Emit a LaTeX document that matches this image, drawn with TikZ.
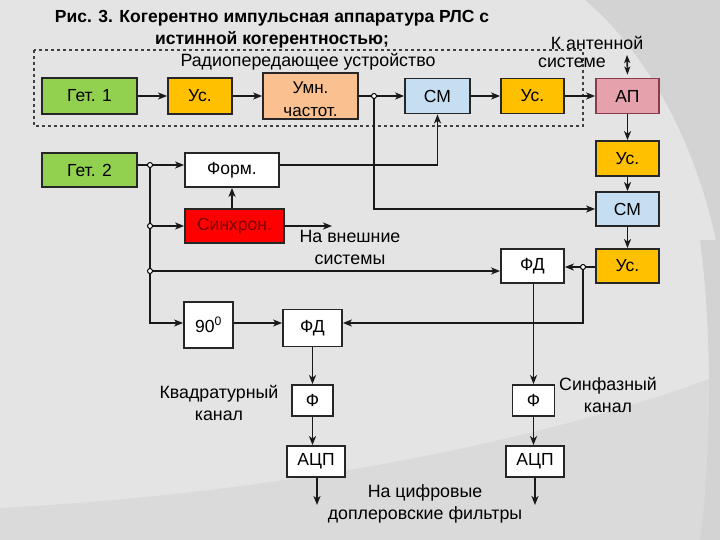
\documentclass[tikz,border=0pt]{standalone}
\usepackage{fontspec}
\setmainfont{Liberation Sans}
\usetikzlibrary{arrows.meta}
\definecolor{bgc}{HTML}{E4E4E4}
\definecolor{bgdark}{HTML}{D3D3D3}
\definecolor{bgmid}{HTML}{DADADA}
\definecolor{cgreen}{HTML}{92D050}
\definecolor{corange}{HTML}{FFC000}
\definecolor{cpeach}{HTML}{FAC090}
\definecolor{cblue}{HTML}{C6DEF2}
\definecolor{cpink}{HTML}{E6A2AC}
\definecolor{cpinkb}{HTML}{8A3A48}
\definecolor{cred}{HTML}{FF0000}
\definecolor{credtxt}{HTML}{7A0000}
\begin{document}
\begin{tikzpicture}[x=1pt,y=-1pt,
  box/.style={draw=black!85, line width=1.8pt, inner sep=0pt, align=center, font=\fontsize{17.5}{21}\selectfont},
  conn/.style={line width=1.6pt, draw=black!90},
  arr/.style={conn, -{Stealth[length=9pt,width=7pt,inset=2.5pt]}},
  darr/.style={conn, {Stealth[length=8pt,width=6pt,inset=2pt]}-{Stealth[length=8pt,width=6pt,inset=2pt]}},
  jdot/.style={circle, draw=black, fill=white, line width=1pt, inner sep=0pt, minimum size=5pt},
  lbl/.style={align=center, font=\fontsize{17.8}{22}\selectfont}]
\useasboundingbox (0,0) rectangle (720,540);
% background
\fill[bgc] (0,0) rectangle (720,540);
\fill[bgdark] (585,0) .. controls (650,55) and (700,150) .. (720,260) -- (720,0) -- cycle;
\fill[bgmid] (0,508) .. controls (250,495) and (520,450) .. (720,375) -- (720,540) -- (0,540) -- cycle;
\fill[bgdark] (700,240) .. controls (712,330) and (712,450) .. (700,540) -- (720,540) -- (720,240) -- cycle;

% title
\node[align=center, font=\fontsize{17.5}{22}\selectfont\bfseries] (title) at (272,29)
  {Рис. 3. Когерентно импульсная аппаратура РЛС с\\истинной когерентностью;};

% dashed group
\draw[dashed, line width=1.1pt, draw=black!75] (34,50) rectangle (583,126);
\node[lbl] (rpu) at (308,62) {Радиопередающее устройство};

% boxes
\node[box, fill=cgreen, minimum width=95pt, minimum height=36pt] (g1) at (89.5,96) {Гет. 1};
\node[box, fill=corange, minimum width=64pt, minimum height=36pt] (us1) at (200,96) {Ус.};
\node[box, fill=cpeach, minimum width=95pt, minimum height=46pt,
  label={[align=center, font=\fontsize{17}{23}\selectfont, yshift=-3pt]center:Умн.\\частот.}] (umn) at (310.5,96) {};
\node[box, fill=cblue, minimum width=65pt, minimum height=35pt] (cm1) at (437.5,96) {СМ};
\node[box, fill=corange, minimum width=63pt, minimum height=35pt] (us2) at (532.5,96) {Ус.};
\node[box, fill=cpink, draw=cpinkb, minimum width=63pt, minimum height=35pt] (ap) at (627.5,96) {АП};
\node[box, fill=corange, minimum width=63pt, minimum height=35pt] (us3) at (627.5,158.5) {Ус.};
\node[box, fill=cblue, minimum width=63pt, minimum height=34pt] (cm2) at (627.5,209) {СМ};
\node[box, fill=corange, minimum width=63pt, minimum height=34pt] (us4) at (627.5,266) {Ус.};
\node[box, fill=cgreen, minimum width=95pt, minimum height=34pt] (g2) at (89.5,170) {Гет. 2};
\node[box, fill=white, minimum width=94pt, minimum height=34pt] (form) at (232,170) {Форм.};
\node[box, fill=cred, text=credtxt, minimum width=99pt, minimum height=34pt] (sync) at (234.5,226) {Синхрон.};
\node[box, fill=white, minimum width=63pt, minimum height=34pt] (fdr) at (532.5,266) {ФД};
\node[box, fill=white, minimum width=49pt, minimum height=46pt, anchor=north] (n90) at (208.5,301) {90\textsuperscript{0}};
\node[box, fill=white, minimum width=59pt, minimum height=37pt] (fdl) at (312.5,328) {ФД};
\node[box, fill=white, minimum width=41pt, minimum height=31pt] (fl) at (312.5,400.5) {Ф};
\node[box, fill=white, minimum width=58pt, minimum height=31pt] (adcl) at (316,461.5) {АЦП};
\node[box, fill=white, minimum width=42pt, minimum height=31pt] (fr) at (533.5,400.5) {Ф};
\node[box, fill=white, minimum width=58pt, minimum height=31pt] (adcr) at (535,461.5) {АЦП};

% labels
\node[lbl] (ant1) at (597,43) {К антенной};
\node[lbl] (ant2) at (572,63) {системе};
\node[lbl] (ext) at (350,247) {На внешние\\системы};
\node[lbl] (kv) at (219,403) {Квадратурный\\канал};
\node[lbl] (sf) at (608,395) {Синфазный\\канал};
\node[lbl] (dop) at (425,504) {На цифровые\\доплеровские фильтры};

% coordinates
\coordinate (ant) at (627,55);
\coordinate (j1) at (150,165);
\coordinate (j2) at (150,226);
\coordinate (j3) at (150,271);
\coordinate (j4) at (374,96);
\coordinate (j5) at (583,267);
\coordinate (row90) at (150,323);
\coordinate (extend) at (332,226);
\coordinate (outl) at (317,505);
\coordinate (outr) at (535,505);

% top chain
\draw[arr] (g1) -- (us1);
\draw[arr] (us1) -- (umn);
\draw[arr] (umn.east) -- (umn.east -| cm1.west);
\draw[arr] (cm1) -- (us2);
\draw[arr] (us2) -- (ap);
\draw[darr] (ant) -- ([yshift=3pt]ap.north);
\draw[arr] (ap) -- (us3);
\draw[arr] (us3) -- (cm2);
\draw[arr] (cm2) -- (us4);

% Гет.2 branches
\draw[arr] (g2.east |- j1) -- (form.west |- j1);
\draw[arr] (j1) -- (row90) -- (row90 -| n90.west);
\draw[arr] (j2) -- (sync.west);
\draw[arr] (j3) -- (j3 -| fdr.west);
\draw[arr] (sync.north -| form.south) -- (form.south);
\draw[arr] (sync.east) -- (extend);
\draw[arr] (form.east |- j1) -- (j1 -| cm1.south) -- (cm1.south);
\draw[arr] (j4) -- (j4 |- cm2.west) -- (cm2.west);

% phase detectors
\draw[arr] (us4.west |- j5) -- (fdr.east |- j5);
\draw[arr] (j5) -- (j5 |- row90) -- (row90 -| fdl.east);
\draw[arr] (row90 -| n90.east) -- (row90 -| fdl.west);

% channels
\draw[arr] (fdl.south) -- (fdl.south |- fl.north);
\draw[arr] (fl.south) -- (fl.south |- adcl.north);
\draw[arr] (adcl.south -| outl) -- (outl);
\draw[arr] (fdr.south -| fr.north) -- (fr.north);
\draw[arr] (fr.south) -- (fr.south |- adcr.north);
\draw[arr] (adcr.south) -- (outr);

% junction dots
\node[jdot] (d1) at (j1) {};
\node[jdot] (d2) at (j2) {};
\node[jdot] (d3) at (j3) {};
\node[jdot] (d4) at (j4) {};
\node[jdot] (d5) at (j5) {};
\end{tikzpicture}
\end{document}
